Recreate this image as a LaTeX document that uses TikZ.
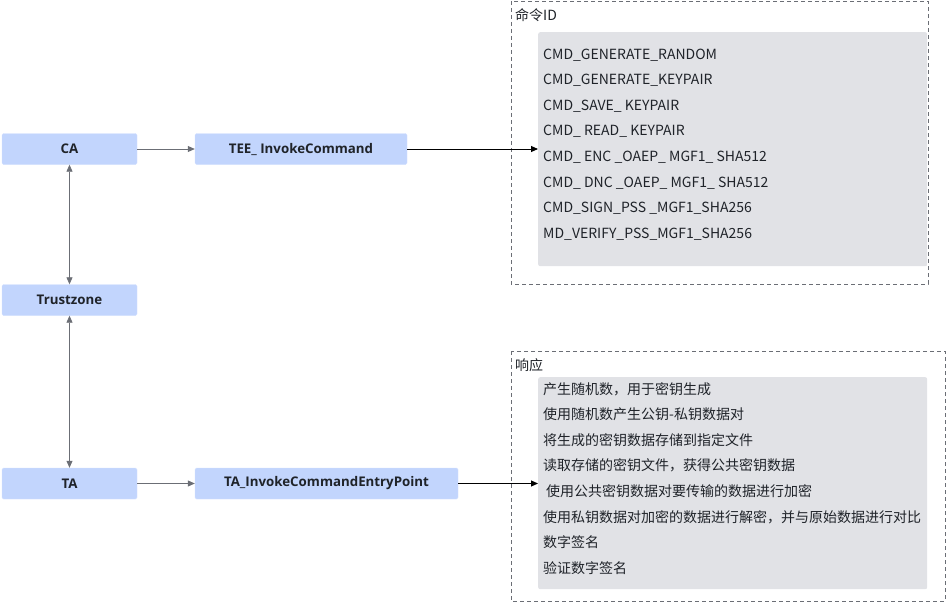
\documentclass[tikz,border=0pt]{standalone}
\usepackage{fontspec}
\setmainfont{Noto Sans}
\newfontfamily\cjk{Noto Sans CJK SC}
\newfontfamily\blkfont{Open Sans}
\usetikzlibrary{arrows.meta}
\definecolor{nodefill}{HTML}{C2D5FD}
\definecolor{nodeline}{HTML}{D3E0FD}
\definecolor{txt}{HTML}{1F2329}
\definecolor{bgbox}{HTML}{E1E2E6}
\definecolor{arr}{HTML}{6B6E75}
\definecolor{dash}{HTML}{6B6E75}
\tikzset{
  blk/.style={draw=nodeline, fill=nodefill, rounded corners=1.5pt, inner sep=0pt,
    minimum height=31pt, font=\fontsize{13.3}{15}\selectfont\blkfont\bfseries, text=txt},
  grp/.style={draw=dash, dashed, dash pattern=on 4pt off 3pt, line width=0.8pt},
  bgr/.style={fill=bgbox, draw=none, rounded corners=2pt},
  item/.style={anchor=west, inner sep=0pt, text=txt, font=\fontsize{14}{16}\selectfont\cjk},
  ttl/.style={anchor=west, inner sep=0pt, text=txt, font=\fontsize{14}{16}\selectfont\cjk},
  garr/.style={draw=arr, line width=0.8pt, -{Triangle[length=7pt,width=6pt]}},
  gbi/.style={draw=arr, line width=0.8pt, {Triangle[length=7pt,width=6pt]}-{Triangle[length=7pt,width=6pt]}},
  karr/.style={draw=black, line width=0.9pt, -{Triangle[length=7pt,width=6pt]}},
}
\begin{document}
\begin{tikzpicture}[x=1pt,y=-1pt]
\useasboundingbox (0,0) rectangle (946,602);
% groups
\draw[grp] (511,1) rectangle (928,284);
\draw[grp] (511,351) rectangle (945,601);
\node[bgr, anchor=north west, minimum width=389pt, minimum height=234pt] (cmdbg) at (538,32) {};
\node[bgr, anchor=north west, minimum width=389pt, minimum height=212pt] (rspbg) at (538,377) {};
\node[ttl] (cmdttl) at (515,15) {命令ID};
\node[ttl] (rspttl) at (515,365) {响应};
% command items
\node[item] (c1) at (543,55) {CMD\_GENERATE\_RANDOM};
\node[item] (c2) at (543,80) {CMD\_GENERATE\_KEYPAIR};
\node[item] (c3) at (543,106) {CMD\_SAVE\_ KEYPAIR};
\node[item] (c4) at (543,131) {CMD\_ READ\_ KEYPAIR};
\node[item] (c5) at (543,157) {CMD\_ ENC \_OAEP\_ MGF1\_ SHA512};
\node[item] (c6) at (543,183) {CMD\_ DNC \_OAEP\_ MGF1\_ SHA512};
\node[item] (c7) at (543,208) {CMD\_SIGN\_PSS \_MGF1\_SHA256};
\node[item] (c8) at (543,234) {MD\_VERIFY\_PSS\_MGF1\_SHA256};
% response items
\node[item] (r1) at (543,389) {产生随机数，用于密钥生成};
\node[item] (r2) at (543,414) {使用随机数产生公钥-私钥数据对};
\node[item] (r3) at (543,440) {将生成的密钥数据存储到指定文件};
\node[item] (r4) at (543,465) {读取存储的密钥文件，获得公共密钥数据};
\node[item] (r5) at (546,491) {使用公共密钥数据对要传输的数据进行加密};
\node[item] (r6) at (543,517) {使用私钥数据对加密的数据进行解密，并与原始数据进行对比};
\node[item] (r7) at (543,542) {数字签名};
\node[item] (r8) at (543,568) {验证数字签名};
% blocks
\node[blk, minimum width=135pt] (ca) at (69.5,149) {CA};
\node[blk, minimum width=212pt] (tee) at (301,149) {TEE\_ InvokeCommand};
\node[blk, minimum width=135pt] (tz) at (69.5,300) {Trustzone};
\node[blk, minimum width=135pt] (ta) at (69.5,483.5) {TA};
\node[blk, minimum width=263pt] (taep) at (326.5,483.5) {TA\_InvokeCommandEntryPoint};
% connectors
\draw[garr] (ca) -- (tee);
\draw[garr] (ta) -- (taep);
\draw[gbi] (ca) -- (tz);
\draw[gbi] (tz) -- (ta);
\draw[karr] (tee.east) -- (cmdbg.west |- tee.east);
\draw[karr] (taep.east) -- (rspbg.west |- taep.east);
\end{tikzpicture}
\end{document}
